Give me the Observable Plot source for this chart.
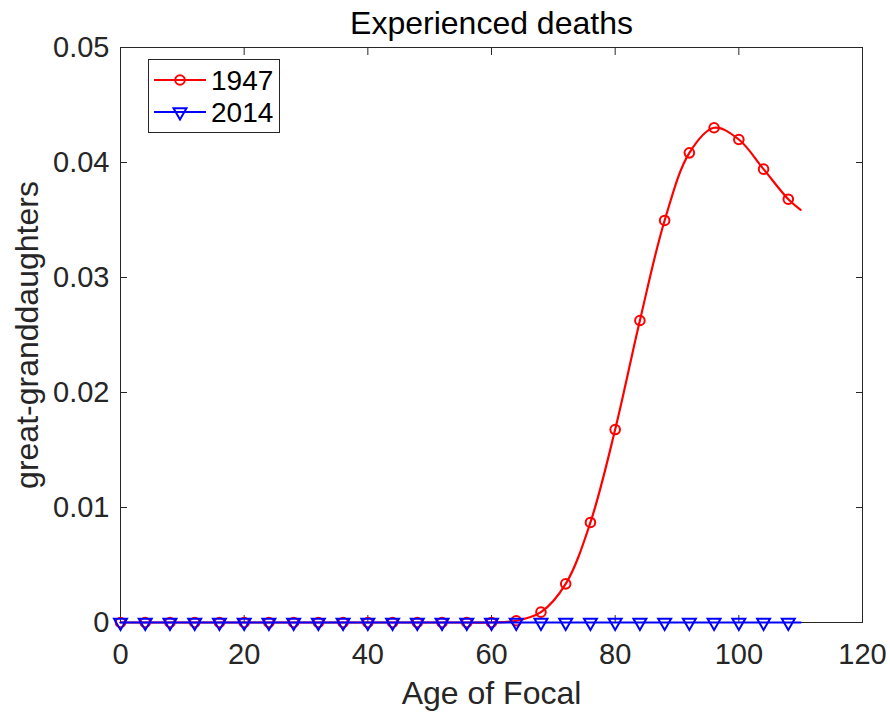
<!DOCTYPE html>
<html>
<head>
<meta charset="utf-8">
<script src="https://cdn.jsdelivr.net/npm/d3@7"></script>
<script src="https://cdn.jsdelivr.net/npm/@observablehq/plot@0.6"></script>
<style>
  html, body { margin: 0; padding: 0; background: #fff; }
  #chart { width: 890px; height: 715px; }
</style>
</head>
<body>
<div id="chart"></div>
<script>
// ---- data ----
const titleText = "Experienced deaths";
const xLabel = "Age of Focal";
const yLabel = "great-granddaughters";
const seriesNames = ["1947", "2014"];
const ages = [0, 4, 8, 12, 16, 20, 24, 28, 32, 36, 40, 44, 48, 52, 56, 60, 64, 68, 72, 76, 80, 84, 88, 92, 96, 100, 104, 108, 110];
const deaths1947 = [0, 0, 0, 0, 0, 0, 0, 0, 0, 0, 0, 0, 0, 0, 0, 0, 0.00015, 0.0009, 0.00336, 0.0087, 0.01678, 0.02626, 0.03496, 0.04084, 0.04302, 0.0420, 0.03942, 0.03681, 0.03589];
const deaths2014 = [0, 0, 0, 0, 0, 0, 0, 0, 0, 0, 0, 0, 0, 0, 0, 0, 0, 0, 0, 0, 0, 0, 0, 0, 0, 0, 0, 0, 0];
const markerAges = ages.filter(a => a % 4 === 0);
const xTicks = [0, 20, 40, 60, 80, 100, 120];
const yTicks = [0, 0.01, 0.02, 0.03, 0.04, 0.05];

const rows1947 = ages.map((a, i) => ({age: a, v: deaths1947[i]}));
const rows2014 = ages.map((a, i) => ({age: a, v: deaths2014[i]}));
const m1947 = rows1947.filter(d => markerAges.includes(d.age));
const m2014 = rows2014.filter(d => markerAges.includes(d.age));

const axisColor = "#262626";
const font = "'Liberation Sans', Arial, Helvetica, sans-serif";
const tickFmtY = d => d === 0 ? "0" : d3.format(".2f")(d);

const chart = Plot.plot({
  width: 890,
  height: 715,
  marginLeft: 120,
  marginRight: 28,
  marginTop: 47,
  marginBottom: 93,
  style: {fontFamily: font, background: "#fff", color: axisColor},
  x: {domain: [0, 120]},
  y: {domain: [0, 0.05]},
  marks: [
    // tick labels
    Plot.axisX(xTicks, {anchor: "bottom", tickSize: 0, tickPadding: 21, fontSize: 29, label: null, fill: axisColor, tickFormat: d => String(d)}),
    Plot.axisY(yTicks, {anchor: "left", tickSize: 0, tickPadding: 11, fontSize: 29, label: null, fill: axisColor, tickFormat: tickFmtY}),
    // inward ticks on all four sides
    Plot.axisX(xTicks, {anchor: "bottom", tickSize: -7, tickFormat: () => "", label: null, stroke: axisColor}),
    Plot.axisX(xTicks, {anchor: "top", tickSize: -7, tickFormat: () => "", label: null, stroke: axisColor}),
    Plot.axisY(yTicks, {anchor: "left", tickSize: -7, tickFormat: () => "", label: null, stroke: axisColor}),
    Plot.axisY(yTicks, {anchor: "right", tickSize: -7, tickFormat: () => "", label: null, stroke: axisColor}),
    Plot.frame({stroke: axisColor, strokeWidth: 1}),
    // 1947 series
    Plot.line(rows1947, {x: "age", y: "v", stroke: "#ff0000", strokeWidth: 2.2, curve: "catmull-rom"}),
    Plot.dot(m1947, {x: "age", y: "v", r: 4.8, stroke: "#ff0000", strokeWidth: 2, fill: "none"}),
    // 2014 series
    Plot.line(rows2014, {x: "age", y: "v", stroke: "#0000ff", strokeWidth: 2.2, curve: "catmull-rom"}),
    Plot.dot(m2014, {x: "age", y: "v", r: 4.8, symbol: "triangle", rotate: 180, stroke: "#0000ff", strokeWidth: 2, fill: "none"}),
    // texts
    Plot.text([titleText], {frameAnchor: "top", lineAnchor: "middle", textAnchor: "middle", dy: -24, fontSize: 32, fill: "#000"}),
    Plot.text([xLabel], {frameAnchor: "bottom", lineAnchor: "middle", textAnchor: "middle", dy: 71, fontSize: 32, fill: axisColor}),
    Plot.text([yLabel], {frameAnchor: "left", lineAnchor: "middle", textAnchor: "middle", dx: -93, rotate: -90, fontSize: 32, fill: axisColor})
  ]
});

// legend (drawn into the same SVG)
const svg = d3.select(chart);
const lg = svg.append("g").attr("font-family", font).attr("text-anchor", "start");
lg.append("rect").attr("x", 148.5).attr("y", 59.5).attr("width", 131).attr("height", 73)
  .attr("fill", "#fff").attr("stroke", axisColor).attr("stroke-width", 1);
const entries = [
  {name: seriesNames[0], color: "#ff0000", y: 80, sym: "circle"},
  {name: seriesNames[1], color: "#0000ff", y: 112, sym: "tri"}
];
entries.forEach(e => {
  lg.append("line").attr("x1", 154).attr("x2", 206).attr("y1", e.y).attr("y2", e.y)
    .attr("stroke", e.color).attr("stroke-width", 2.2);
  if (e.sym === "circle") {
    lg.append("circle").attr("cx", 180).attr("cy", e.y).attr("r", 4.8)
      .attr("fill", "none").attr("stroke", e.color).attr("stroke-width", 2);
  } else {
    lg.append("path").attr("d", d3.symbol(d3.symbolTriangle, Math.PI * 4.8 * 4.8)())
      .attr("transform", `translate(180,${e.y}) rotate(180)`)
      .attr("fill", "none").attr("stroke", e.color).attr("stroke-width", 2);
  }
  lg.append("text").attr("x", 211).attr("y", e.y + 10).attr("font-size", 28)
    .attr("text-anchor", "start").attr("fill", "#000").text(e.name);
});

document.getElementById("chart").appendChild(chart);
</script>
</body>
</html>
